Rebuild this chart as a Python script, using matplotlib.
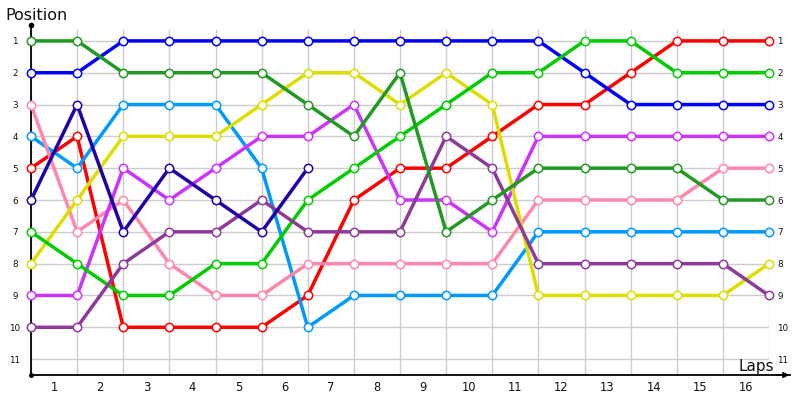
import matplotlib
matplotlib.use("Agg")
import matplotlib.pyplot as plt
import numpy as np

# ---- data ----
lap_points = list(range(17))            # 0 = start, 1..16 = after each lap
lap_labels = [str(i) for i in range(1, 17)]
position_ticks = list(range(1, 12))
position_labels = [str(i) for i in range(1, 12)]

red = [5, 4, 10, 10, 10, 10, 9, 6, 5, 5, 4, 3, 3, 2, 1, 1, 1]
blue = [2, 2, 1, 1, 1, 1, 1, 1, 1, 1, 1, 1, 2, 3, 3, 3, 3]
light_blue = [4, 5, 3, 3, 3, 5, 10, 9, 9, 9, 9, 7, 7, 7, 7, 7, 7]
pink = [3, 7, 6, 8, 9, 9, 8, 8, 8, 8, 8, 6, 6, 6, 6, 5, 5]
magenta = [9, 9, 5, 6, 5, 4, 4, 3, 6, 6, 7, 4, 4, 4, 4, 4, 4]
yellow = [8, 6, 4, 4, 4, 3, 2, 2, 3, 2, 3, 9, 9, 9, 9, 9, 8]
bright_green = [7, 8, 9, 9, 8, 8, 6, 5, 4, 3, 2, 2, 1, 1, 2, 2, 2]
purple = [10, 10, 8, 7, 7, 6, 7, 7, 7, 4, 5, 8, 8, 8, 8, 8, 9]
dark_green = [1, 1, 2, 2, 2, 2, 3, 4, 2, 7, 6, 5, 5, 5, 5, 6, 6]
navy = [6, 3, 7, 5, 6, 7, 5]

series = [
    (red, "#ff0000"),
    (blue, "#0000ff"),
    (light_blue, "#0099ff"),
    (pink, "#ff88aa"),
    (magenta, "#cc33ff"),
    (yellow, "#dddd00"),
    (bright_green, "#00cc00"),
    (purple, "#8e3a99"),
    (dark_green, "#229922"),
    (navy, "#2200aa"),
]

fig = plt.figure(figsize=(8, 4), dpi=100)
ax = fig.add_axes([31 / 800, 25 / 400, 738 / 800, 350 / 400])
ax.set_xlim(0, 16)
ax.set_ylim(11.5, 0.5)

for vals, col in series:
    ax.plot(lap_points[:len(vals)], vals, color=col, lw=2.5,
            marker="o", markersize=6.0, markerfacecolor="white",
            markeredgecolor=col, markeredgewidth=1.1, zorder=3,
            solid_joinstyle="round", clip_on=False)

# vertical grid lines (stop a little below the top of the axis)
for p in lap_points:
    ax.plot([p, p], [11.5, 0.65], color="#cccccc", lw=1.0, zorder=0)
# horizontal grid lines
ax.set_yticks(position_ticks)
ax.yaxis.grid(True, color="#cccccc", lw=1.0, zorder=0)

ax.set_xticks([p + 0.5 for p in lap_points[:-1]])
ax.set_xticklabels(lap_labels, fontsize=8.3, color="#111111")
ax.set_yticklabels(position_labels, fontsize=6.3, color="#111111")
ax.tick_params(axis="x", length=0, pad=4)
ax.tick_params(axis="y", length=0, pad=11.5)
for lab in ax.get_yticklabels():
    lab.set_horizontalalignment("center")

# right-side position labels
axr = ax.twinx()
axr.set_ylim(ax.get_ylim())
axr.set_yticks(position_ticks)
axr.set_yticklabels(position_labels, fontsize=6.3, color="#111111")
axr.tick_params(axis="y", length=0, pad=6)

for a in (ax, axr):
    for s in ["top", "right", "left", "bottom"]:
        a.spines[s].set_visible(False)

# axis lines with arrows
ax.plot([0, 0], [11.5, 0.5], color="black", lw=1.3, clip_on=False, zorder=2)
ax.plot([0, 16.45], [11.5, 11.5], color="black", lw=1.3, clip_on=False, zorder=2)
ax.plot([0], [0.5], marker="o", color="black", markersize=3, clip_on=False)
ax.plot([0], [11.5], marker="o", color="black", markersize=2.5, clip_on=False)
ax.annotate("", xy=(16.5, 11.5), xytext=(16.1, 11.5),
            arrowprops=dict(arrowstyle="-|>", color="black", lw=1.2,
                            mutation_scale=8),
            annotation_clip=False)

fig.text(5 / 800, 1 - 15 / 400, "Position", fontsize=11.5, va="center",
         ha="left", color="#111111")
fig.text(774 / 800, 1 - 367 / 400, "Laps", fontsize=11, va="center",
         ha="right", color="#111111")

fig.savefig("out.png", dpi=100)
